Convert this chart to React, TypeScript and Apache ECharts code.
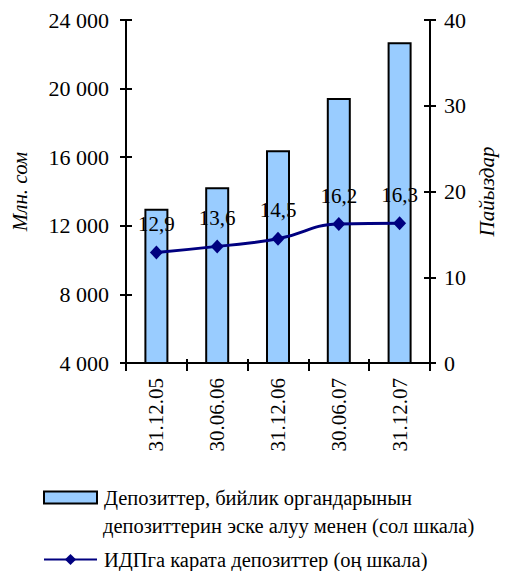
import React, { useEffect, useRef } from "react";
import * as echarts from "echarts";

const categories = ["31.12.05", "30.06.06", "31.12.06", "30.06.07", "31.12.07"];
const deposits = [13000, 14250, 16400, 19450, 22700];
const depositsToGdp = [12.9, 13.6, 14.5, 16.2, 16.3];
const barName = "Депозиттер, бийлик органдарынын депозиттерин эске алуу менен (сол шкала)";
const barLegendLine1 = "Депозиттер, бийлик органдарынын";
const barLegendLine2 = "депозиттерин эске алуу менен (сол шкала)";
const lineName = "ИДПга карата депозиттер (оң шкала)";
const leftAxisName = "Млн. сом";
const rightAxisName = "Пайыздар";

const FONT = "'Liberation Serif', 'DejaVu Serif', serif";

export default function App() {
  const ref = useRef<HTMLDivElement>(null);
  useEffect(() => {
    if (!ref.current) return;
    const chart = echarts.init(ref.current, undefined, { renderer: "svg" });
    const fmt = (v: number) => {
      const s = String(Math.round(v));
      return s.length > 3 ? s.slice(0, s.length - 3) + " " + s.slice(s.length - 3) : s;
    };
    const axisLine = { show: true, lineStyle: { color: "#000", width: 2 } };
    const tickStyle = { color: "#000", width: 2 };
    chart.setOption({
      animation: false,
      backgroundColor: "#fff",
      grid: { left: 126, right: 84, top: 20, bottom: 208 },
      xAxis: [
        {
          type: "category",
          data: categories,
          axisLine,
          axisTick: { show: true, inside: false, length: 8, lineStyle: tickStyle },
          axisLabel: {
            rotate: 90,
            color: "#000",
            fontFamily: FONT,
            fontSize: 21,
            margin: 15,
          },
          splitLine: { show: false },
        },
        {
          type: "category",
          data: categories,
          position: "bottom",
          axisLine: { show: false },
          axisTick: { show: true, inside: true, length: 4, lineStyle: tickStyle },
          axisLabel: { show: false },
        },
      ],
      yAxis: [
        {
          type: "value",
          min: 4000,
          max: 24000,
          interval: 4000,
          position: "left",
          axisLine,
          axisTick: { show: true, inside: false, length: 6, lineStyle: tickStyle },
          axisLabel: { color: "#000", fontFamily: FONT, fontSize: 22, margin: 17, formatter: fmt },
          splitLine: { show: false },
          name: leftAxisName,
          nameLocation: "middle",
          nameRotate: 90,
          nameGap: 96,
          nameTextStyle: { color: "#000", fontFamily: FONT, fontSize: 21, fontStyle: "italic" },
        },
        {
          type: "value",
          min: 0,
          max: 40,
          interval: 10,
          position: "right",
          axisLine,
          axisTick: { show: true, inside: false, length: 6, lineStyle: tickStyle },
          axisLabel: { color: "#000", fontFamily: FONT, fontSize: 22, margin: 14 },
          splitLine: { show: false },
          name: rightAxisName,
          nameLocation: "middle",
          nameRotate: 90,
          nameGap: 42,
          nameTextStyle: { color: "#000", fontFamily: FONT, fontSize: 21, fontStyle: "italic" },
        },
        {
          type: "value",
          min: 4000,
          max: 24000,
          interval: 4000,
          position: "left",
          axisLine: { show: false },
          axisTick: { show: true, inside: true, length: 6, lineStyle: tickStyle },
          axisLabel: { show: false },
          splitLine: { show: false },
        },
        {
          type: "value",
          min: 0,
          max: 40,
          interval: 10,
          position: "right",
          axisLine: { show: false },
          axisTick: { show: true, inside: true, length: 6, lineStyle: tickStyle },
          axisLabel: { show: false },
          splitLine: { show: false },
        },
      ],
      legend: [
        {
          data: [{ name: barName, icon: "rect" }],
          left: 43,
          top: 487,
          padding: 0,
          orient: "vertical",
          itemWidth: 53,
          itemHeight: 12,
          formatter: () => barLegendLine1,
          textStyle: { color: "#000", fontFamily: FONT, fontSize: 20.5, padding: [0, 0, 0, 2] },
        },
        {
          data: [lineName],
          left: 43,
          top: 549,
          padding: 0,
          orient: "vertical",
          itemWidth: 53,
          itemHeight: 14,
          textStyle: { color: "#000", fontFamily: FONT, fontSize: 20.5, lineHeight: 18, padding: [0, 0, 0, 2] },
        },
      ],
      graphic: [
        {
          type: "text",
          left: 103,
          top: 515,
          style: { text: barLegendLine2, fill: "#000", font: `20.5px ${FONT}` },
        },
      ],
      series: [
        {
          name: barName,
          type: "bar",
          data: deposits,
          xAxisIndex: 0,
          yAxisIndex: 0,
          barWidth: 24,
          itemStyle: { color: "#99CCFF", borderColor: "#000", borderWidth: 2 },
        },
        {
          name: lineName,
          type: "line",
          data: depositsToGdp,
          xAxisIndex: 0,
          yAxisIndex: 1,
          smooth: 0.5,
          symbol: "diamond",
          symbolSize: [13, 14],
          lineStyle: { color: "#000080", width: 3 },
          itemStyle: { color: "#000080" },
          label: {
            show: true,
            position: "top",
            distance: 11,
            color: "#000",
            fontFamily: FONT,
            fontSize: 21,
            formatter: (p: any) => String(p.value).replace(".", ","),
          },
          z: 5,
        },
      ],
    });
    return () => chart.dispose();
  }, []);
  return <div ref={ref} style={{ width: 514, height: 571, position: "absolute", left: 0, top: 0 }} />;
}
